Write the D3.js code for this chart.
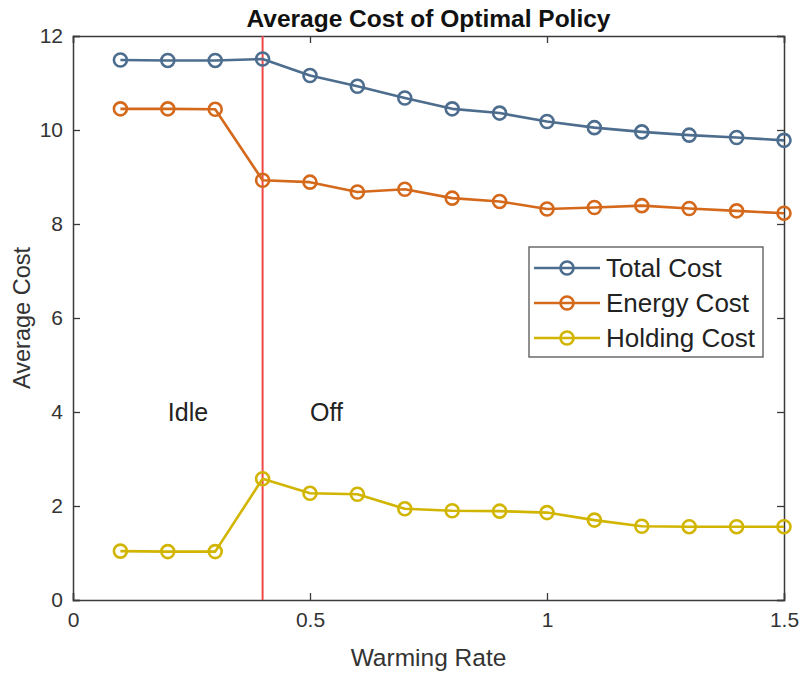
<!DOCTYPE html>
<html>
<head>
<meta charset="utf-8">
<script src="https://cdn.jsdelivr.net/npm/d3@7/dist/d3.min.js"></script>
<style>
  html, body { margin: 0; padding: 0; background: #fff; }
  svg { display: block; font-family: "Liberation Sans", Arial, sans-serif; }
</style>
</head>
<body>
<svg id="chart" width="802" height="673"></svg>
<script>
// Warming rates and average costs of the optimal policy
const warmingRate = [0.1, 0.2, 0.3, 0.4, 0.5, 0.6, 0.7, 0.8, 0.9, 1.0, 1.1, 1.2, 1.3, 1.4, 1.5];
const totalCost   = [11.49, 11.48, 11.48, 11.51, 11.16, 10.93, 10.68, 10.45, 10.36, 10.18, 10.05, 9.96, 9.89, 9.84, 9.78];
const energyCost  = [10.45, 10.45, 10.44, 8.93, 8.89, 8.68, 8.74, 8.55, 8.48, 8.32, 8.35, 8.39, 8.33, 8.28, 8.23];
const holdingCost = [1.04, 1.03, 1.03, 2.58, 2.27, 2.25, 1.94, 1.90, 1.89, 1.86, 1.70, 1.57, 1.56, 1.56, 1.56];

const seriesNames  = ["Total Cost", "Energy Cost", "Holding Cost"];
const seriesColors = ["#4d6d8e", "#d4691c", "#d2b500"];
const seriesValues = [totalCost, energyCost, holdingCost];

const xTicks = [0, 0.5, 1, 1.5];
const xTickLabels = ["0", "0.5", "1", "1.5"];
const yTicks = [0, 2, 4, 6, 8, 10, 12];

const switchRate = 0.4;
const regionLabels = [{ x: 0.2, y: 4, text: "Idle" }, { x: 0.5, y: 4, text: "Off" }];

(function draw() {
  const svg = d3.select("#chart");
  const plotLeft = 73, plotRight = 784, plotTop = 36, plotBottom = 600;
  const axisColor = "#3a3a3a";
  const textColor = "#333333";

  const x = d3.scaleLinear().domain([0, 1.5]).range([plotLeft, plotRight]);
  const y = d3.scaleLinear().domain([0, 12]).range([plotBottom, plotTop]);

  // Box and inward ticks on all four sides
  const tickLen = 7;
  const axisB = d3.axisBottom(x).tickValues(xTicks).tickSize(-tickLen).tickFormat((d, i) => xTickLabels[i]).tickPadding(12);
  const axisT = d3.axisTop(x).tickValues(xTicks).tickSize(-tickLen).tickFormat("");
  const axisL = d3.axisLeft(y).tickValues(yTicks).tickSize(-tickLen).tickFormat(d3.format("d")).tickPadding(10);
  const axisR = d3.axisRight(y).tickValues(yTicks).tickSize(-tickLen).tickFormat("");

  function styleAxis(g) {
    g.selectAll("path.domain").attr("stroke", axisColor).attr("stroke-width", 1.5);
    g.selectAll(".tick line").attr("stroke", axisColor).attr("stroke-width", 1.3);
    g.selectAll(".tick text").attr("fill", textColor).style("font-size", "21px");
  }

  svg.append("g").attr("transform", `translate(0,${plotBottom})`).call(axisB).call(styleAxis);
  svg.append("g").attr("transform", `translate(0,${plotTop})`).call(axisT).call(styleAxis);
  svg.append("g").attr("transform", `translate(${plotLeft},0)`).call(axisL).call(styleAxis);
  svg.append("g").attr("transform", `translate(${plotRight},0)`).call(axisR).call(styleAxis);

  // Vertical marker separating the Idle and Off regimes
  svg.append("line")
    .attr("x1", x(switchRate)).attr("x2", x(switchRate))
    .attr("y1", y(0)).attr("y2", y(12))
    .attr("stroke", "#f04848").attr("stroke-width", 2);

  // Cost series
  const line = d3.line().x((d, i) => x(warmingRate[i])).y(d => y(d));
  seriesValues.forEach((vals, s) => {
    const g = svg.append("g");
    g.append("path").datum(vals)
      .attr("d", line).attr("fill", "none")
      .attr("stroke", seriesColors[s]).attr("stroke-width", 2.6)
      .attr("stroke-linejoin", "round");
    g.selectAll("circle").data(vals).join("circle")
      .attr("cx", (d, i) => x(warmingRate[i])).attr("cy", d => y(d))
      .attr("r", 6.5).attr("fill", "none")
      .attr("stroke", seriesColors[s]).attr("stroke-width", 2.6);
  });

  // Region annotations
  svg.selectAll("text.region").data(regionLabels).join("text")
    .attr("class", "region")
    .attr("x", d => x(d.x)).attr("y", d => y(d.y))
    .attr("dy", "0.35em")
    .attr("fill", "#222").style("font-size", "25px")
    .text(d => d.text);

  // Title and axis labels
  svg.append("text").attr("x", (plotLeft + plotRight) / 2).attr("y", 27)
    .attr("text-anchor", "middle").style("font-size", "24.5px").style("font-weight", "bold")
    .attr("fill", "#111").text("Average Cost of Optimal Policy");

  svg.append("text").attr("x", (plotLeft + plotRight) / 2).attr("y", 666)
    .attr("text-anchor", "middle").style("font-size", "24.5px")
    .attr("fill", textColor).text("Warming Rate");

  svg.append("text").attr("transform", `translate(30,${(plotTop + plotBottom) / 2}) rotate(-90)`)
    .attr("text-anchor", "middle").style("font-size", "23.5px")
    .attr("fill", textColor).text("Average Cost");

  // Legend
  const lg = svg.append("g");
  lg.append("rect").attr("x", 529).attr("y", 247).attr("width", 234).attr("height", 110)
    .attr("fill", "#fff").attr("stroke", "#555").attr("stroke-width", 1.3);
  seriesNames.forEach((name, s) => {
    const ly = 268 + s * 35;
    lg.append("line").attr("x1", 534).attr("x2", 600).attr("y1", ly).attr("y2", ly)
      .attr("stroke", seriesColors[s]).attr("stroke-width", 2.6);
    lg.append("circle").attr("cx", 567).attr("cy", ly).attr("r", 6.5)
      .attr("fill", "none").attr("stroke", seriesColors[s]).attr("stroke-width", 2.6);
    lg.append("text").attr("x", 606).attr("y", ly).attr("dy", "0.35em")
      .style("font-size", "26px").attr("fill", "#222").text(name);
  });
})();
</script>
</body>
</html>
